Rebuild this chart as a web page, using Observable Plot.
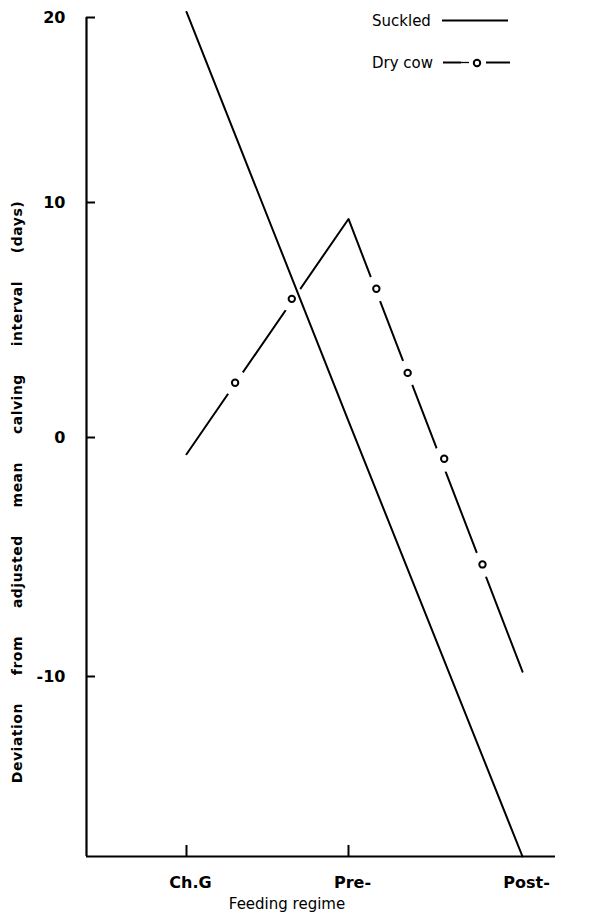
<!DOCTYPE html>
<html><head><meta charset="utf-8">
<script src="https://cdn.jsdelivr.net/npm/d3@7"></script>
<script src="https://cdn.jsdelivr.net/npm/@observablehq/plot@0.6"></script>
<style>
body{margin:0;background:#fff;}
#wrap{position:relative;width:599px;height:920px;}
#legend{position:absolute;left:0;top:0;pointer-events:none;}
</style></head><body><div id="wrap"></div>
<script>
const categories = ["Ch.G", "Pre-", "Post-"];
const tickedCategories = [0, 1];
const suckled = [20.3, 0.7, -17.5];
const dryCow = [-0.7, 9.3, -9.8];
const dryCowMarkersX = [0.30, 0.65, 1.16, 1.34, 1.55, 1.77];
const dryCowMarkersY = [2.33, 5.90, 6.33, 2.75, -0.89, -5.31];
const yTicks = [-10, 0, 10, 20];
const xTitle = "Feeding regime";
const yTitle = "Deviation from adjusted mean calving interval (days)";
const legendLabels = ["Suckled", "Dry cow"];

const xDomain = [-0.6, 0, 1, 2, 2.2];
const yDomain = [-17.5, -10, 0, 10, 20];

const suckledData = categories.map((c, i) => ({x: i, y: suckled[i]}));
const dryData = categories.map((c, i) => ({x: i, y: dryCow[i]}));
const markers = dryCowMarkersX.map((x, i) => ({x, y: dryCowMarkersY[i]}));

const W = 599, H = 920, ML = 86, MR = 44, MT = 17, MB = 64;
const frameW = W - ML - MR, frameH = H - MT - MB;

const plot = Plot.plot({
  width: W,
  height: H,
  marginLeft: ML,
  marginRight: MR,
  marginTop: MT,
  marginBottom: MB,
  style: {fontFamily: "DejaVu Sans", color: "#000", background: "#fff", overflow: "visible"},
  x: {type: "linear", domain: xDomain, range: [86, 186, 348, 522, 555]},
  y: {type: "linear", domain: yDomain, range: [856, 676, 437, 202, 17]},
  marks: [
    Plot.ruleX([xDomain[0]], {y1: yDomain[0], y2: yDomain[yDomain.length - 1], strokeWidth: 2.2}),
    Plot.ruleY([yDomain[0]], {strokeWidth: 2.2}),
    // inward ticks
    Plot.tickY(yTicks, {y: d => d, insetRight: frameW - 9, strokeWidth: 2}),
    Plot.tickX(tickedCategories, {x: d => d, insetTop: frameH - 11, strokeWidth: 2}),
    Plot.axisY(yTicks, {tickSize: 0, tickPadding: 21, fontSize: 16, fontWeight: "bold", tickFormat: d => String(d), label: null}),
    Plot.axisX([0, 1, 2], {tickSize: 0, tickPadding: 20, dx: 4, fontSize: 16, fontWeight: "bold", tickFormat: i => categories[i], label: null}),
    Plot.line(dryData, {x: "x", y: "y", stroke: "black", strokeWidth: 2}),
    Plot.dot(markers, {x: "x", y: "y", r: 13, fill: "white", stroke: null}),
    Plot.dot(markers, {x: "x", y: "y", r: 3.2, fill: "white", stroke: "black", strokeWidth: 2}),
    Plot.line(suckledData, {x: "x", y: "y", stroke: "black", strokeWidth: 2}),
    Plot.text([yTitle], {frameAnchor: "left", rotate: -90, dx: -69, dy: 55, textAnchor: "middle", lineAnchor: "middle", fontSize: 14, fontWeight: "bold"}),
    Plot.text([xTitle], {frameAnchor: "bottom", dx: -34, dy: 48, textAnchor: "middle", lineAnchor: "middle", fontSize: 15})
  ]
});
plot.querySelectorAll("text").forEach(t => {
  if (t.textContent === yTitle) { t.style.wordSpacing = "22.5px"; t.style.letterSpacing = "0.5px"; }
});
const wrap = document.getElementById("wrap");
wrap.appendChild(plot);

// legend (drawn in the plot area, top right, as in the original)
const ns = "http://www.w3.org/2000/svg";
const lg = document.createElementNS(ns, "svg");
lg.setAttribute("id", "legend");
lg.setAttribute("width", W);
lg.setAttribute("height", 90);
lg.style.fontFamily = "DejaVu Sans";
function el(name, attrs, text) {
  const e = document.createElementNS(ns, name);
  for (const k in attrs) e.setAttribute(k, attrs[k]);
  if (text) e.textContent = text;
  lg.appendChild(e);
  return e;
}
el("text", {x: 372, y: 25.5, "font-size": 15}, legendLabels[0]);
el("line", {x1: 442, x2: 508, y1: 20.5, y2: 20.5, stroke: "black", "stroke-width": 2});
el("text", {x: 372, y: 67.5, "font-size": 15}, legendLabels[1]);
el("line", {x1: 443, x2: 461, y1: 62.5, y2: 62.5, stroke: "black", "stroke-width": 2});
el("line", {x1: 461, x2: 469, y1: 62.5, y2: 62.5, stroke: "black", "stroke-width": 1.3});
el("circle", {cx: 477, cy: 63, r: 3.2, fill: "white", stroke: "black", "stroke-width": 2});
el("line", {x1: 486, x2: 510, y1: 62.5, y2: 62.5, stroke: "black", "stroke-width": 2});
wrap.appendChild(lg);
</script></body></html>
